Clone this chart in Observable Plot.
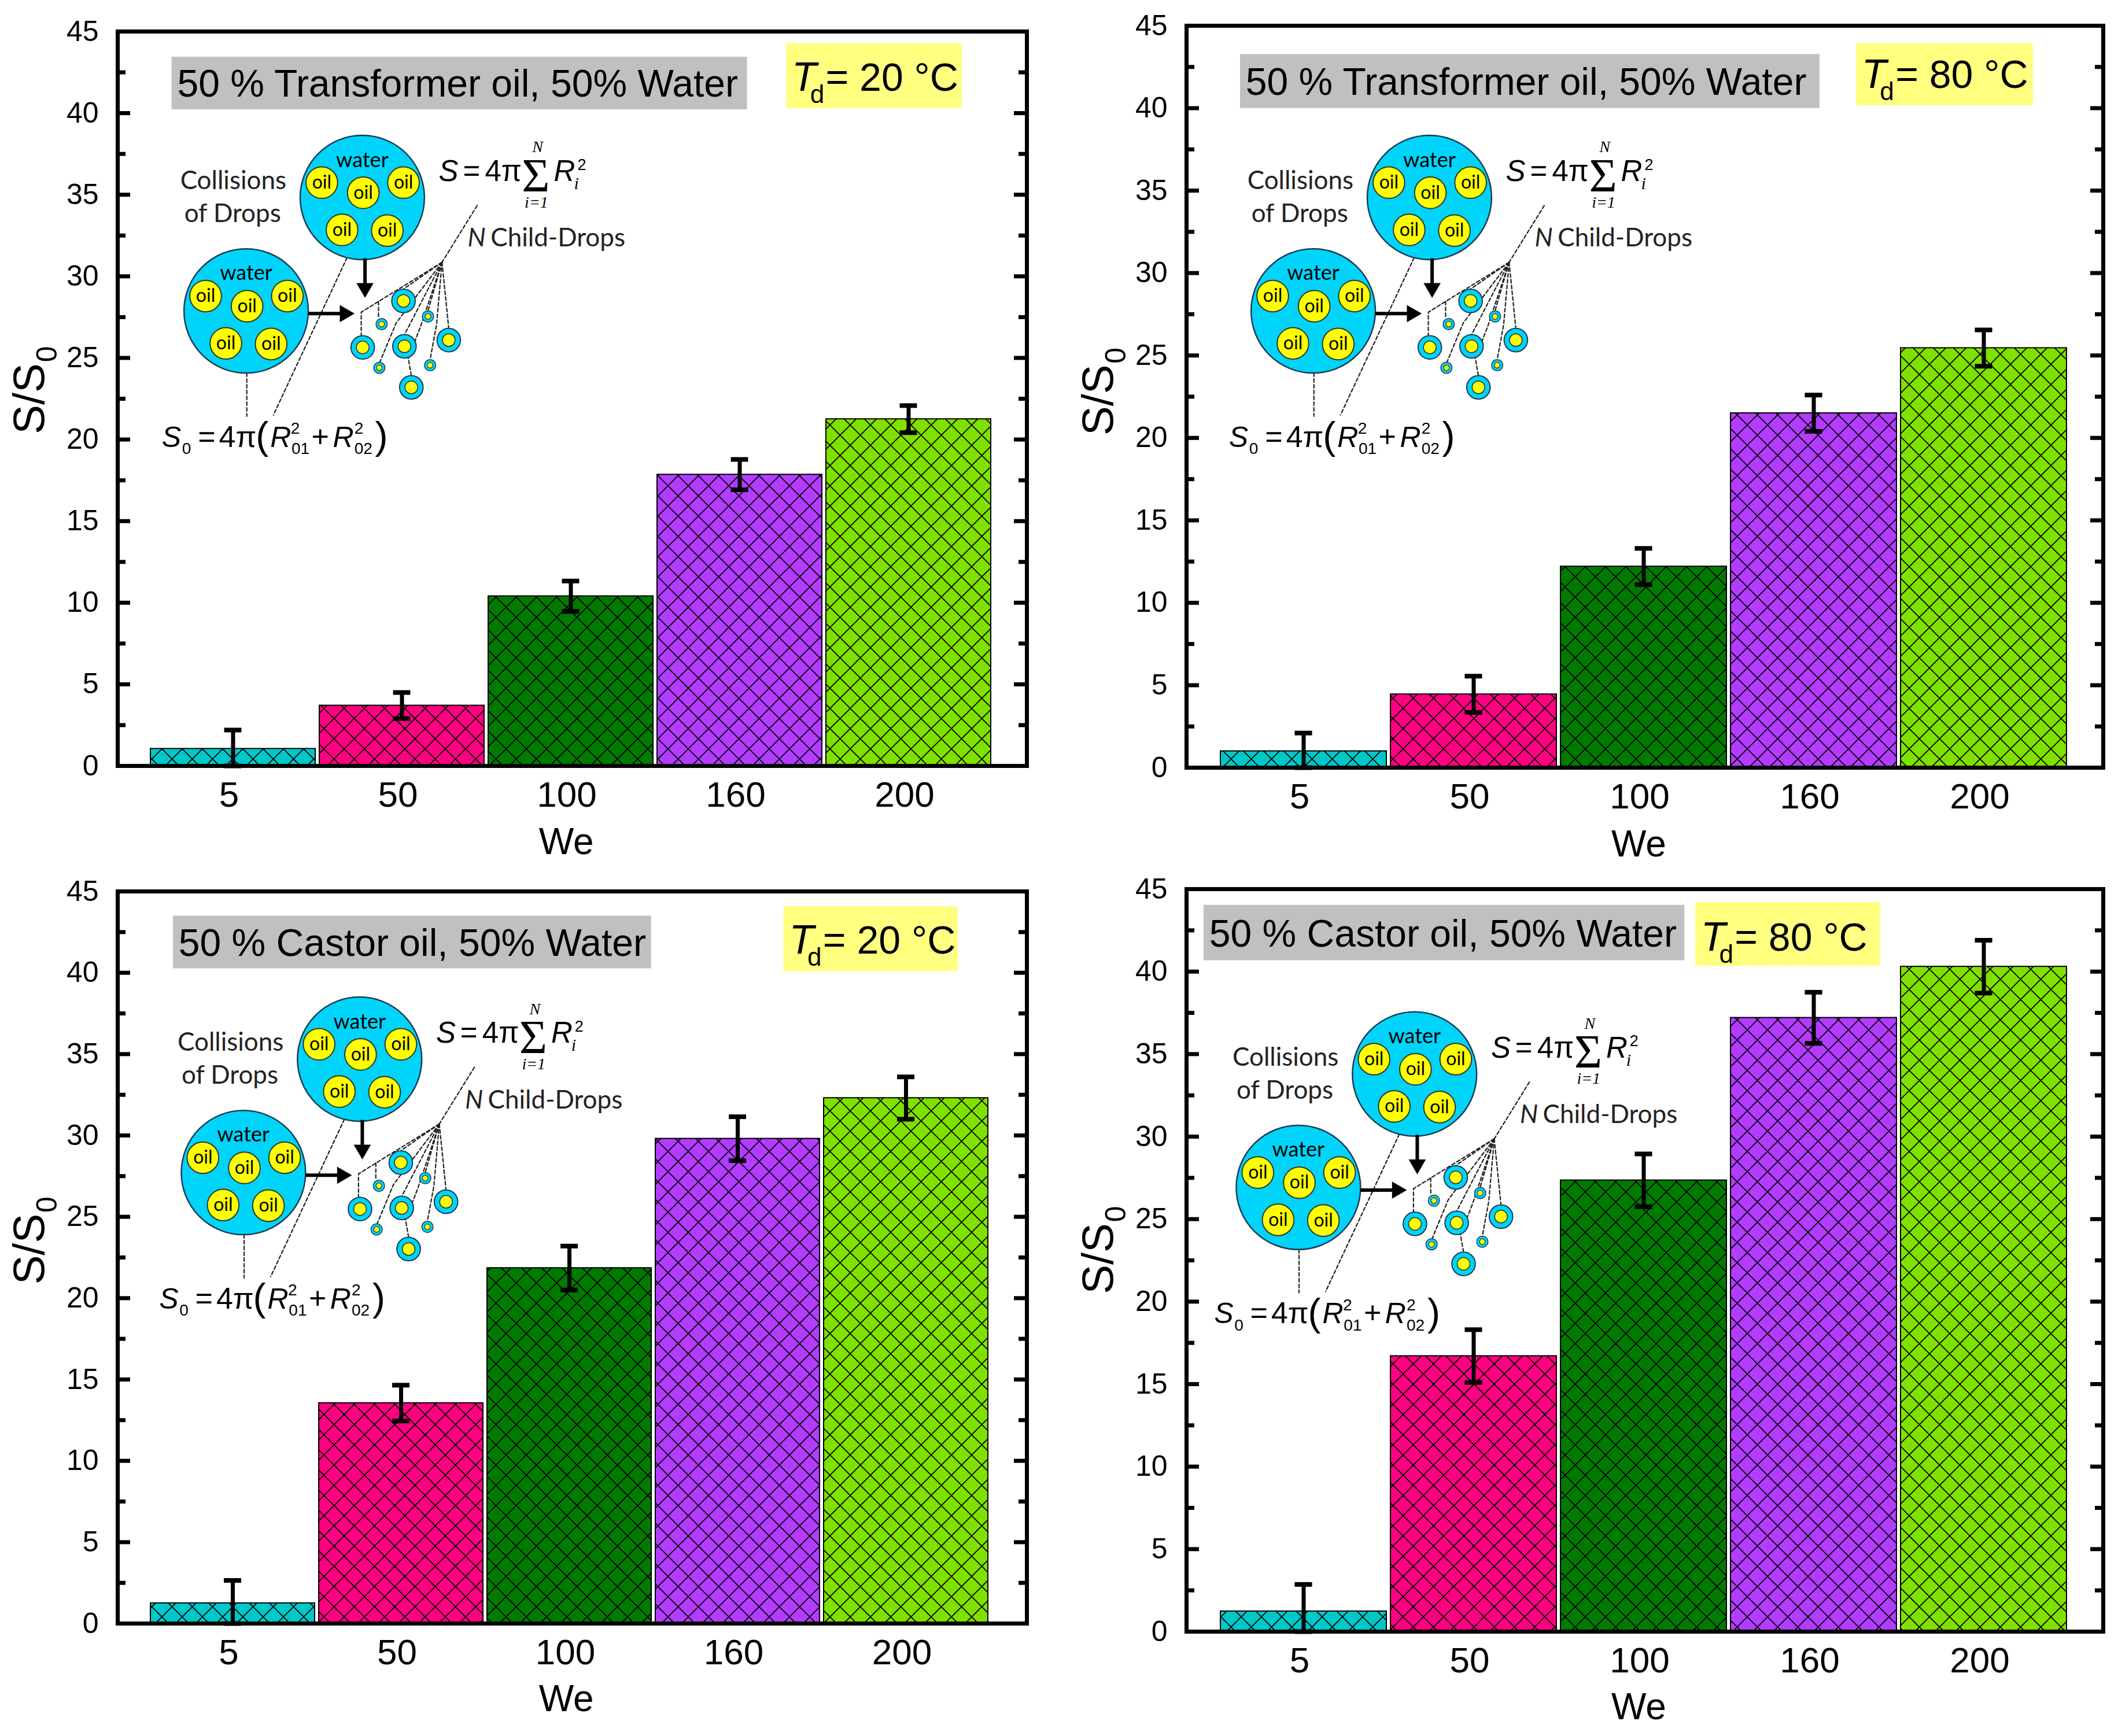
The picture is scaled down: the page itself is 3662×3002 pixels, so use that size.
<!DOCTYPE html>
<html><head><meta charset="utf-8">
<script src="https://cdn.jsdelivr.net/npm/d3@7"></script>
<script src="https://cdn.jsdelivr.net/npm/@observablehq/plot@0.6"></script>
<style>
html,body{margin:0;padding:0;background:#fff;}
#root{position:relative;width:3662px;height:3002px;overflow:hidden;background:#fff;}
.panel{position:absolute;}
.panel svg{position:absolute;left:0;top:0;}
</style></head><body>
<svg width="0" height="0" style="position:absolute;left:0;top:0">
 <defs>
  <pattern id="hatch" patternUnits="userSpaceOnUse" width="35" height="35">
    <path d="M0,0L35,35M35,0L0,35M-5,30L5,40M30,-5L40,5M-5,5L5,-5M30,40L40,30" stroke="#000" stroke-width="1.7"/>
  </pattern>
 </defs>
</svg>
<div id="root"></div>
<script>
// ---------- data ----------
const categories = ["5", "50", "100", "160", "200"];
const barColors = ["#00C8C8", "#FF0080", "#007A00", "#B23CFF", "#80E000"];
const yTicks = [0, 5, 10, 15, 20, 25, 30, 35, 40, 45];
const yMinorTicks = [2.5, 7.5, 12.5, 17.5, 22.5, 27.5, 32.5, 37.5, 42.5];

const panelTitles = ["50 % Transformer oil, 50% Water", "50 % Transformer oil, 50% Water",
                     "50 % Castor oil, 50% Water", "50 % Castor oil, 50% Water"];
const panelTemps = ["20", "80", "20", "80"];

const valuesTL = [1.05, 3.7, 10.4, 17.85, 21.25];
const errorsTL = [1.15, 0.8, 0.93, 0.93, 0.83];
const valuesTR = [1.0, 4.45, 12.2, 21.5, 25.45];
const errorsTR = [1.1, 1.1, 1.1, 1.1, 1.1];
const valuesBL = [1.25, 13.55, 21.85, 29.8, 32.3];
const errorsBL = [1.4, 1.1, 1.35, 1.35, 1.3];
const valuesBR = [1.23, 16.7, 27.35, 37.2, 40.3];
const errorsBR = [1.63, 1.6, 1.6, 1.55, 1.6];
const panelValues = [valuesTL, valuesTR, valuesBL, valuesBR];
const panelErrors = [errorsTL, errorsTR, errorsBL, errorsBR];

// ---------- inset diagram geometry (diagram units) ----------
const bigDrops = [{x:153, y:46, w:"water", wy:23.4}, {x:67, y:130, w:"water", wy:107}];
const oilOffsets = [[-30,-11],[0.7,-3.5],[30.5,-11],[-15,24],[18.5,24.5]];
const childBig = [{x:183.5,y:122.6},{x:153.3,y:157},{x:184.2,y:156.2},{x:217,y:151.6},{x:189.3,y:186.6}];
const childSmall = [{x:167.3,y:139.8},{x:201.6,y:134.1},{x:165.6,y:172.1},{x:203.2,y:170.2}];
const dashPaths = [
  [[67.5,176],[67.5,208]],
  [[141.7,90.6],[87.2,207]],
  [[238,52],[212,94]],
  [[212,94],[183.5,113.8]],
  [[212,94],[165,123],[152.2,131],[152.2,148.5]],
  [[165,123],[165,135.6]],
  [[212,94],[201.6,129.9]],
  [[212,94],[217,143]],
  [[212,94],[184.2,147.6]],
  [[212,94],[178,139],[166,167.9]],
  [[212,94],[208,140],[203.2,166]],
  [[212,94],[196,142],[187,165],[189.3,178]]
];

// ---------- layout ----------
const S = 2.3355; // full px per reference-display unit
const layout = [
 {left:0, top:0, width:1830, height:1500, margin:{top:54,right:55,bottom:176,left:203}, inset:[56,61],
  gray:[127,553,42,81], titleY:71.5, yellow:[582,712,32,80], tY:67, diag:[115,100], ylab:[22,295], we:[419,632]},
 {left:1831, top:0, width:1831, height:1500, margin:{top:44,right:26,bottom:173,left:220}, inset:[58,63],
  gray:[134,563,40,80], titleY:70, yellow:[590,721,32,78], tY:65, diag:[121,100], ylab:[29,296], we:[429,634]},
 {left:0, top:1501, width:1830, height:1501, margin:{top:40,right:55,bottom:195,left:203}, inset:[56,67],
  gray:[128,482,35.3,74.3], titleY:65, yellow:[580,709,28.3,76.3], tY:63, diag:[113,95.3], ylab:[22,282], we:[419,624]},
 {left:1831, top:1501, width:1831, height:1501, margin:{top:36,right:26,bottom:181,left:220}, inset:[58,63],
  gray:[107,463,27.3,68.3], titleY:58, yellow:[471,608,25.3,72.3], tY:61, diag:[110,106.3], ylab:[29,289], we:[429,630]}
];

const SANS = '"Liberation Sans", Arial, sans-serif';
const LATO = 'Lato, "Open Sans", sans-serif';
const SERIF = '"Liberation Serif", "DejaVu Serif", serif';

function mainPlot(cfg, values, errors) {
  const data = categories.map((c, i) => ({we: c, v: values[i], lo: Math.max(0, values[i] - errors[i]), hi: values[i] + errors[i], color: barColors[i]}));
  const m = cfg.margin;
  const fw = cfg.width - m.left - m.right;
  const pad = 0.025;
  const step = (fw - cfg.inset[0] - cfg.inset[1]) / (categories.length - pad);
  const bw = step * (1 - pad);
  const cap = (bw - 30) / 2;
  return Plot.plot({
    width: cfg.width, height: cfg.height,
    marginTop: m.top, marginRight: m.right, marginBottom: m.bottom, marginLeft: m.left,
    style: {fontFamily: SANS, background: "transparent", overflow: "visible", color: "#000"},
    x: {type: "band", domain: categories, paddingInner: pad, paddingOuter: 0, insetLeft: cfg.inset[0], insetRight: cfg.inset[1]},
    y: {domain: [0, 45]},
    marks: [
      Plot.barY(data, {x: "we", y: "v", fill: "color"}),
      Plot.barY(data, {x: "we", y: "v", fill: "url(#hatch)", stroke: "#000", strokeWidth: 2}),
      Plot.ruleX(data, {x: "we", y1: "lo", y2: "hi", stroke: "#000", strokeWidth: 7}),
      Plot.tickY(data, {x: "we", y: "hi", stroke: "#000", strokeWidth: 8, insetLeft: cap, insetRight: cap}),
      Plot.tickY(data, {x: "we", y: "lo", stroke: "#000", strokeWidth: 8, insetLeft: cap, insetRight: cap}),
      Plot.tickY(yTicks, {y: d => d, stroke: "#000", strokeWidth: 7, insetRight: fw - 22}),
      Plot.tickY(yMinorTicks, {y: d => d, stroke: "#000", strokeWidth: 7, insetRight: fw - 14}),
      Plot.tickY(yTicks, {y: d => d, stroke: "#000", strokeWidth: 7, insetLeft: fw - 22}),
      Plot.tickY(yMinorTicks, {y: d => d, stroke: "#000", strokeWidth: 7, insetLeft: fw - 14}),
      Plot.frame({stroke: "#000", strokeWidth: 7}),
      Plot.axisY({ticks: yTicks, tickSize: 0, tickPadding: 33, fontSize: 50, label: null, fill: "#000"}),
      Plot.axisX({tickSize: 0, tickPadding: 26, fontSize: 62, label: null, fill: "#000", dx: -7})
    ]
  });
}

function overlayPlot(cfg, idx) {
  const W = cfg.width, H = cfg.height;
  const o = cfg.diag;
  const X = d => d.x + o[0], Y = d => d.y + o[1];
  const txt = (items, opts) => Plot.text(items, {x: "x", y: "y", text: "t", fill: "#000", lineAnchor: "bottom", textAnchor: "start", ...opts});
  const oils = [];
  bigDrops.forEach(b => oilOffsets.forEach(([dx, dy]) => oils.push({x: b.x + dx, y: b.y + dy})));
  const dashPts = [];
  dashPaths.forEach((p, i) => p.forEach(([x, y]) => dashPts.push({id: i, x, y})));
  const dg = (x, y, t) => ({x: x + o[0], y: y + o[1], t});
  const g = cfg.gray, yl = cfg.yellow;
  return Plot.plot({
    width: W, height: H, margin: 0,
    style: {fontFamily: SANS, background: "transparent", overflow: "visible", color: "#000"},
    x: {axis: null, domain: [0, W / S], range: [0, W]},
    y: {axis: null, domain: [0, H / S], range: [0, H]},
    marks: [
      // title boxes
      Plot.rect([{x1: g[0], x2: g[1], y1: g[2], y2: g[3]}], {x1: "x1", x2: "x2", y1: "y1", y2: "y2", fill: "#C0C0C0"}),
      Plot.rect([{x1: yl[0], x2: yl[1], y1: yl[2], y2: yl[3]}], {x1: "x1", x2: "x2", y1: "y1", y2: "y2", fill: "#FFFF80"}),
      txt([{x: g[0] + 4, y: cfg.titleY, t: panelTitles[idx]}], {fontSize: 66}),
      txt([{x: yl[0] + 4, y: cfg.tY, t: "T"}], {fontSize: 70, fontStyle: "italic"}),
      txt([{x: yl[0] + 17.5, y: cfg.tY + 9, t: "d"}], {fontSize: 44}),
      txt([{x: yl[0] + 29, y: cfg.tY, t: "= " + panelTemps[idx] + " °C"}], {fontSize: 68}),
      // axis labels
      Plot.text([{x: cfg.ylab[0], y: cfg.ylab[1], t: "S/S"}], {x: "x", y: "y", text: "t", rotate: -90, fontSize: 76, fill: "#000"}),
      Plot.text([{x: cfg.ylab[0] + 13, y: cfg.ylab[1] - 33, t: "0"}], {x: "x", y: "y", text: "t", rotate: -90, fontSize: 50, fill: "#000"}),
      txt([{x: cfg.we[0], y: cfg.we[1], t: "We"}], {fontSize: 64, textAnchor: "middle"}),
      // diagram: dashed links
      Plot.line(dashPts, {x: X, y: Y, z: "id", stroke: "#222", strokeWidth: 2.2, strokeDasharray: "6,4"}),
      // big drops
      Plot.dot(bigDrops, {x: X, y: Y, r: 46 * S, fill: "#00D4FA", stroke: "#1b3c55", strokeWidth: 2.5}),
      Plot.dot(oils, {x: X, y: Y, r: 11.7 * S, fill: "#FFFF00", stroke: "#333", strokeWidth: 2}),
      Plot.text(oils, {x: X, y: Y, text: () => "oil", fontSize: 32, fontFamily: LATO, fill: "#000"}),
      txt(bigDrops.map(b => dg(b.x, b.wy, b.w)), {fontSize: 36, fontFamily: LATO, textAnchor: "middle"}),
      // child drops
      Plot.dot(childBig, {x: X, y: Y, r: 8.7 * S, fill: "#00D4FA", stroke: "#1b3c55", strokeWidth: 2}),
      Plot.dot(childBig, {x: X, y: Y, r: 4.7 * S, fill: "#FFFF00", stroke: "#333", strokeWidth: 1.5}),
      Plot.dot(childSmall, {x: X, y: Y, r: 4.2 * S, fill: "#00D4FA", stroke: "#1b3c55", strokeWidth: 1.5}),
      Plot.dot(childSmall, {x: X, y: Y, r: 2.1 * S, fill: "#FFFF00", stroke: "#333", strokeWidth: 1.2}),
      // arrows
      Plot.link([{x1: 155, y1: 91, x2: 155, y2: 111}], {x1: d => d.x1 + o[0], y1: d => d.y1 + o[1], x2: d => d.x2 + o[0], y2: d => d.y2 + o[1], stroke: "#000", strokeWidth: 6}),
      Plot.dot([{x: 155, y: 113}], {x: X, y: Y, symbol: "triangle", r: 11, rotate: 180, fill: "#000"}),
      Plot.link([{x1: 113, y1: 132, x2: 138, y2: 132}], {x1: d => d.x1 + o[0], y1: d => d.y1 + o[1], x2: d => d.x2 + o[0], y2: d => d.y2 + o[1], stroke: "#000", strokeWidth: 6}),
      Plot.dot([{x: 140, y: 132}], {x: X, y: Y, symbol: "triangle", r: 11, rotate: 90, fill: "#000"}),
      // texts
      txt([dg(57.5, 39.8, "Collisions"), dg(57, 64.4, "of Drops")], {fontSize: 44, fontFamily: LATO, textAnchor: "middle", fill: "#222"}),
      txt([dg(231, 82.4, "N")], {fontSize: 44, fontFamily: LATO, fontStyle: "italic", fill: "#222"}),
      txt([dg(248, 82.4, "Child-Drops")], {fontSize: 44, fontFamily: LATO, fill: "#222"}),
      // S = 4π Σ R_i^2
      txt([dg(209.6, 34, "S"), dg(294.8, 34, "R")], {fontSize: 51, fontStyle: "italic"}),
      txt([dg(227.5, 34, "=")], {fontSize: 51}),
      txt([dg(243.8, 34, "4π")], {fontSize: 51}),
      txt([dg(281.5, 41.3, "Σ")], {fontSize: 83, fontFamily: SERIF, textAnchor: "middle"}),
      txt([dg(282.8, 12.6, "N"), dg(281.9, 53.3, "i=1")], {fontSize: 28, fontFamily: SERIF, fontStyle: "italic", textAnchor: "middle"}),
      txt([dg(312.3, 25.5, "2")], {fontSize: 27}),
      txt([dg(309.7, 40, "i")], {fontSize: 30, fontFamily: SERIF, fontStyle: "italic"}),
      // S0 = 4π (R01^2 + R02^2)
      txt([dg(4.6, 230.6, "S"), dg(84.8, 230.6, "R"), dg(131.2, 230.6, "R")], {fontSize: 50, fontStyle: "italic"}),
      txt([dg(19.6, 236, "0"), dg(100.6, 236, "01"), dg(147.1, 236, "02")], {fontSize: 28}),
      txt([dg(100, 221.1, "2"), dg(147.1, 221.1, "2")], {fontSize: 28}),
      txt([dg(31.3, 230.6, "=")], {fontSize: 52}),
      txt([dg(46.9, 230.6, "4π")], {fontSize: 52}),
      txt([dg(121.9, 230.6, "+")], {fontSize: 52, textAnchor: "middle"}),
      txt([dg(74.1, 232, "("), dg(162.5, 232, ")")], {fontSize: 66, fontWeight: 300})
    ]
  });
}

const root = document.getElementById("root");
layout.forEach((cfg, i) => {
  const div = document.createElement("div");
  div.className = "panel";
  div.style.left = cfg.left + "px";
  div.style.top = cfg.top + "px";
  div.style.width = cfg.width + "px";
  div.style.height = cfg.height + "px";
  div.appendChild(mainPlot(cfg, panelValues[i], panelErrors[i]));
  div.appendChild(overlayPlot(cfg, i));
  root.appendChild(div);
});
</script>
</body></html>
